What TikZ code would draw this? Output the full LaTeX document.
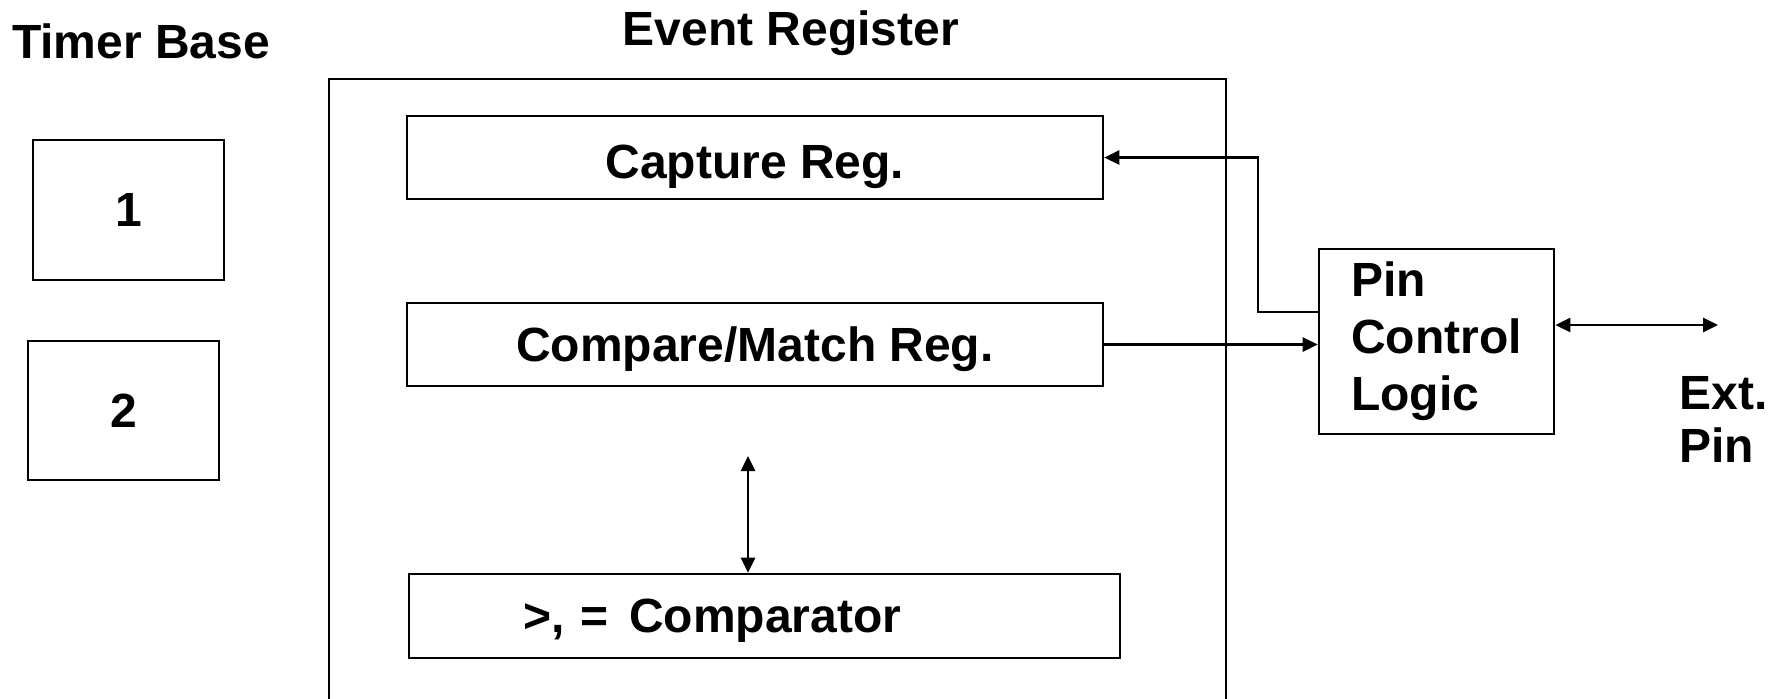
\documentclass[tikz,border=0pt]{standalone}
\usepackage{fontspec}
\setmainfont{Liberation Sans}
\usepackage{tikz}
\usetikzlibrary{positioning,arrows.meta}

\begin{document}
\begin{tikzpicture}[x=0.5pt,y=-0.5pt]
\tikzstyle{every node}+=[inner sep=0pt, font=\bfseries\fontsize{24}{28.5}\selectfont]
\tikzstyle{blk}=[draw=black, line width=1.3pt, text depth=0pt]
\tikzstyle{arr}=[black, line width=1.3pt, -{Triangle[length=7.5pt,width=7pt]}]
\tikzstyle{darr}=[black, line width=1.3pt, {Triangle[length=7.5pt,width=7pt]}-{Triangle[length=7.5pt,width=7pt]}]
\clip (0,0) rectangle (1781,698);
% timer base
\node [anchor=base] (tbase) at (141,58) {Timer Base};
\node [blk, minimum width=95.5pt, minimum height=70pt] (t1) at (128.5,210) {1};
\node [blk, minimum width=95.5pt, minimum height=69.5pt] (t2) at (123.5,410.5) {2};
% event register
\node [anchor=base] (ertitle) at (791,45) {Event Register};
\draw [black, line width=1.3pt] (329,760) -- (329,79) -- (1226,79) -- (1226,760);
\node [blk, text height=20.5pt, minimum width=348pt, minimum height=41.5pt] (cap) at (755,157.5) {Capture Reg.};
\node [blk, minimum width=348pt, minimum height=41.5pt] (cmpr) at (755,344.5) {Compare/Match Reg.};
\node [blk, minimum height=42pt, inner xsep=57pt, text width=241.5pt, align=left] (cmp) at (764.5,616) {>, =\hspace{10.4pt}Comparator};
% pin logic
\node [blk, text depth=, minimum width=117.5pt, minimum height=92.5pt, align=left] (pin) at (1436.5,341.5) {Pin\\Control\\Logic};
\node [anchor=north west, align=left, font=\bfseries\fontsize{24}{26.75}\selectfont] (ext) at (1679,376) {Ext.\\Pin};
\coordinate (vt) at (748,456);
\coordinate (pinend) at (1718,325);
% connectors
\draw [darr] (vt) -- (vt |- cmp.north);
\draw [arr] (pin.west |- 0,312) -- (1258,312) |- (cap.east);
\draw [arr] (cmpr.east) -- (cmpr.east -| pin.west);
\draw [darr] (pin.east |- pinend) -- (pinend);
\end{tikzpicture}
\end{document}
